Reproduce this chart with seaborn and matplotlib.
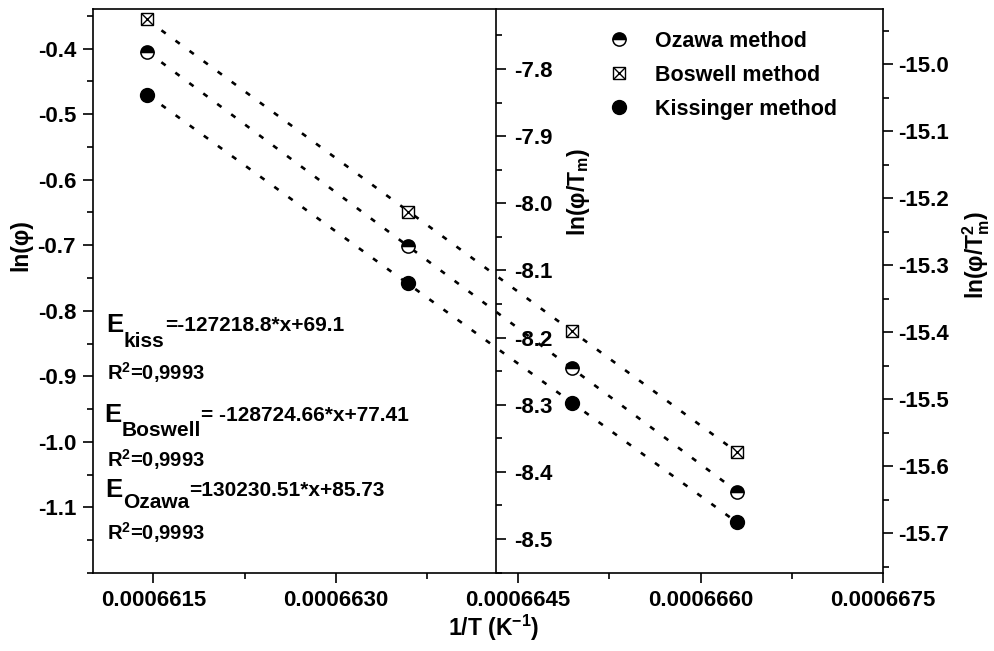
import numpy as np
import pandas as pd
import matplotlib
matplotlib.use("Agg")
import matplotlib.pyplot as plt
import seaborn as sns
from matplotlib.lines import Line2D
from matplotlib.ticker import FixedLocator, FormatStrFormatter, MultipleLocator
from matplotlib.legend_handler import HandlerTuple

# ---------------- data ----------------
inv_T = [0.00066145, 0.00066359, 0.00066494, 0.00066630]
ln_phi_ozawa = [-0.405, -0.701, -0.887, -1.076]          # left axis, ln(phi)
ln_phi_Tm_boswell = [-7.726, -8.013, -8.190, -8.370]      # middle axis, ln(phi/Tm)
ln_phi_Tm2_kissinger = [-15.046, -15.327, -15.506, -15.684]  # right axis, ln(phi/Tm^2)

x_ticks = [0.0006615, 0.0006630, 0.0006645, 0.0006660, 0.0006675]
left_ticks = [-0.4, -0.5, -0.6, -0.7, -0.8, -0.9, -1.0, -1.1]
mid_ticks = [-7.8, -7.9, -8.0, -8.1, -8.2, -8.3, -8.4, -8.5]
right_ticks = [-15.0, -15.1, -15.2, -15.3, -15.4, -15.5, -15.6, -15.7]

series_labels = ["Ozawa method", "Boswell method", "Kissinger method"]
eq_subs = ["kiss", "Boswell", "Ozawa"]
eq_rests = ["=-127218.8*x+69.1", "= -128724.66*x+77.41", "=130230.51*x+85.73"]
r2_text = "0,9993"

# ---------------- style ----------------
sns.set_theme(style="ticks")
plt.rcParams["font.family"] = ["Liberation Sans", "DejaVu Sans"]
plt.rcParams["font.weight"] = "bold"
plt.rcParams["mathtext.fontset"] = "custom"
plt.rcParams["mathtext.rm"] = "Liberation Sans:bold"
plt.rcParams["mathtext.bf"] = "Liberation Sans:bold"
plt.rcParams["mathtext.it"] = "Liberation Sans:bold"
plt.rcParams["axes.linewidth"] = 1.2
for k in ["text.color", "axes.labelcolor", "xtick.color", "ytick.color",
          "axes.edgecolor", "xtick.labelcolor", "ytick.labelcolor"]:
    plt.rcParams[k] = "black"

W, H = 994, 651
fig = plt.figure(figsize=(W / 100, H / 100), dpi=100)
fig.patch.set_facecolor("white")
L, R, B, T = 92.7, 883.0, 573.0, 9.0
ax = fig.add_axes([L / W, 1 - B / H, (R - L) / W, (B - T) / H])
ax.set_facecolor("white")
ax_mid = ax.twinx()
ax_r = ax.twinx()

dot = (0, (2.0, 4.6))
line_kws = dict(color="black", lw=1.9, ls=dot)

df = pd.DataFrame({"x": inv_T, "oz": ln_phi_ozawa, "bo": ln_phi_Tm_boswell,
                   "ki": ln_phi_Tm2_kissinger})

# regression (dotted) lines
sns.regplot(data=df, x="x", y="oz", ax=ax, scatter=False, ci=None,
            truncate=True, line_kws=line_kws)
sns.regplot(data=df, x="x", y="bo", ax=ax_mid, scatter=False, ci=None,
            truncate=True, line_kws=line_kws)
sns.regplot(data=df, x="x", y="ki", ax=ax_r, scatter=False, ci=None,
            truncate=True, line_kws=line_kws)

# markers
oz_kw = dict(ls="", marker="o", ms=9.5, mfc="black", mfcalt="white",
             fillstyle="top", mec="black", mew=1.1)
bs_kw = dict(ls="", marker="s", ms=8.4, mfc="white", mec="black", mew=1.0)
bx_kw = dict(ls="", marker="x", ms=8.4, mec="black", mew=1.0)
ki_kw = dict(ls="", marker="o", ms=10, mfc="black", mec="black", mew=1.0)
ax.plot(df["x"], df["oz"], zorder=5, **oz_kw)
ax_mid.plot(df["x"], df["bo"], zorder=5, **bs_kw)
ax_mid.plot(df["x"], df["bo"], zorder=6, **bx_kw)
ax_r.plot(df["x"], df["ki"], zorder=5, **ki_kw)

# limits
ax.set_xlim(0.000661, 0.0006675)
ax.set_ylim(-1.2, -0.3396)
ax_mid.set_ylim(-8.5506, -7.7106)
ax_r.set_ylim(-15.7597, -14.9179)

tick_fs = 16
maj = dict(length=7, width=1.2, color="black", labelcolor="black")
mino = dict(length=4, width=1.2, color="black")

# x axis
ax.xaxis.set_major_locator(FixedLocator(x_ticks))
ax.xaxis.set_major_formatter(FormatStrFormatter("%.7f"))
ax.xaxis.set_minor_locator(MultipleLocator(0.00000075))
ax.tick_params(axis="x", which="major", direction="out", labelsize=tick_fs, pad=5, **maj)
ax.tick_params(axis="x", which="minor", direction="out", **mino)
ax.tick_params(axis="x", top=False, which="both")

# left axis
ax.yaxis.set_major_locator(FixedLocator(left_ticks))
ax.yaxis.set_major_formatter(FormatStrFormatter("%.1f"))
ax.yaxis.set_minor_locator(MultipleLocator(0.05))
ax.tick_params(axis="y", which="major", direction="out", labelsize=tick_fs, pad=5, **maj)
ax.tick_params(axis="y", which="minor", direction="out", **mino)
ax.tick_params(axis="y", right=False, which="both")
ax.spines["right"].set_visible(False)
for s in ["left", "bottom", "top"]:
    ax.spines[s].set_color("black")
    ax.spines[s].set_linewidth(1.2)

# middle axis
ax_mid.spines["right"].set_position(("axes", (496.0 - L) / (R - L)))
for s in ["left", "bottom", "top"]:
    ax_mid.spines[s].set_visible(False)
ax_mid.spines["right"].set_color("black")
ax_mid.spines["right"].set_linewidth(1.2)
ax_mid.yaxis.set_major_locator(FixedLocator(mid_ticks))
ax_mid.yaxis.set_major_formatter(FormatStrFormatter("%.1f"))
ax_mid.yaxis.set_minor_locator(MultipleLocator(0.05))
ax_mid.tick_params(axis="y", which="major", direction="out", labelsize=tick_fs, pad=6, **maj)
ax_mid.tick_params(axis="y", which="minor", direction="out", **mino)

# right axis
for s in ["left", "bottom", "top"]:
    ax_r.spines[s].set_visible(False)
ax_r.spines["right"].set_color("black")
ax_r.spines["right"].set_linewidth(1.2)
ax_r.yaxis.set_major_locator(FixedLocator(right_ticks))
ax_r.yaxis.set_major_formatter(FormatStrFormatter("%.1f"))
ax_r.yaxis.set_minor_locator(MultipleLocator(0.05))
ax_r.tick_params(axis="y", which="major", direction="out", labelsize=tick_fs, pad=4, **maj)
ax_r.tick_params(axis="y", which="minor", direction="out", **mino)

for a in (ax, ax_mid, ax_r):
    for lab in a.get_xticklabels() + a.get_yticklabels():
        lab.set_fontweight("bold")
    a.grid(False)

# axis labels
lab_fs = 16.5
ax.set_xlabel("1/T (K$^{-1}$)", fontsize=lab_fs, fontweight="bold", color="black")
ax.xaxis.set_label_coords((494 - L) / (R - L), -(628 - B) / (B - T))
ax.xaxis.label.set_va("center")
ax.set_ylabel("ln(φ)", fontsize=lab_fs, fontweight="bold", color="black")
ax.yaxis.set_label_coords((21 - L) / (R - L), (B - 245) / (B - T))
ax.yaxis.label.set_va("center")
ax_mid.set_ylabel("ln(φ/T$_{m}$)", fontsize=lab_fs, fontweight="bold", color="black")
ax_mid.yaxis.set_label_coords((578 - L) / (R - L), (B - 192) / (B - T))
ax_mid.yaxis.label.set_va("center")
ax_r.set_ylabel("ln(φ/T$_{m}^{2}$)", fontsize=lab_fs, fontweight="bold", color="black")
ax_r.yaxis.set_label_coords((976 - L) / (R - L), (B - 255) / (B - T))
ax_r.yaxis.label.set_va("center")

# legend
h_oz = Line2D([], [], **oz_kw)
h_bs = (Line2D([], [], **bs_kw), Line2D([], [], **bx_kw))
h_ki = Line2D([], [], **ki_kw)
leg = ax_r.legend([h_oz, h_bs, h_ki], series_labels, loc="upper left",
                  bbox_to_anchor=(608 / W, 1 - 31 / H), bbox_transform=fig.transFigure,
                  frameon=False, prop=dict(size=15.5, weight="bold"),
                  handlelength=1.0, handletextpad=1.2, labelspacing=0.6,
                  borderpad=0, borderaxespad=0, labelcolor="black",
                  handler_map={tuple: HandlerTuple(ndivide=1, pad=0)})

# equations
def px2fig(x, y):
    return x / W, 1 - y / H

eq_pos = [(106, 332, 14), (104, 422, 13), (105, 497, 10)]  # E left, baseline, sub drop(px)
r2_pos = [(107, 380), (107, 467), (107, 540)]
big_fs, small_fs, r2_fs = 18.5, 15, 14.5
for (ex, ey, drop), sub, rest in zip(eq_pos, eq_subs, eq_rests):
    fx, fy = px2fig(ex, ey)
    tE = fig.text(fx, fy, "E", fontsize=big_fs, fontweight="bold", va="baseline",
                  ha="left", color="black")
    tS = ax.annotate(sub, xy=(1, 0), xycoords=tE, xytext=(0.5, -drop * 0.72),
                     textcoords="offset points", fontsize=small_fs, fontweight="bold",
                     va="bottom", ha="left", color="black")
    ax.annotate(rest, xy=(1, 0), xycoords=(tS, tE), xytext=(0, 1.2),
                textcoords="offset points", fontsize=small_fs, fontweight="bold",
                va="bottom", ha="left", color="black")
for (rx, ry) in r2_pos:
    fx, fy = px2fig(rx, ry)
    fig.text(fx, fy, "R$^{2}$=" + r2_text, fontsize=r2_fs, fontweight="bold",
             va="baseline", ha="left", color="black")

fig.savefig("out.png", dpi=100, facecolor="white")
